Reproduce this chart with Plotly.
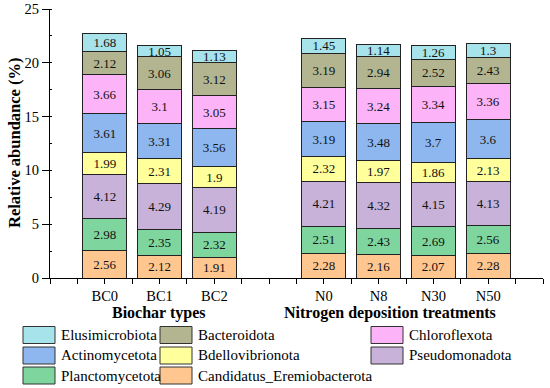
import plotly.graph_objects as go

# ---- data ----
groups = ["Biochar types", "Nitrogen deposition treatments"]
biochar_cats = ["BC0", "BC1", "BC2"]
nitrogen_cats = ["N0", "N8", "N30", "N50"]
categories = biochar_cats + nitrogen_cats

# stacking order, bottom to top
phyla = ["Candidatus_Eremiobacterota", "Planctomycetota", "Pseudomonadota",
         "Bdellovibrionota", "Actinomycetota", "Chloroflexota",
         "Bacteroidota", "Elusimicrobiota"]

candidatus = [2.56, 2.12, 1.91, 2.28, 2.16, 2.07, 2.28]
plancto = [2.98, 2.35, 2.32, 2.51, 2.43, 2.69, 2.56]
pseudo = [4.12, 4.29, 4.19, 4.21, 4.32, 4.15, 4.13]
bdello = [1.99, 2.31, 1.9, 2.32, 1.97, 1.86, 2.13]
actino = [3.61, 3.31, 3.56, 3.19, 3.48, 3.7, 3.6]
chloro = [3.66, 3.1, 3.05, 3.15, 3.24, 3.34, 3.36]
bactero = [2.12, 3.06, 3.12, 3.19, 2.94, 2.52, 2.43]
elusi = [1.68, 1.05, 1.13, 1.45, 1.14, 1.26, 1.3]
values = [candidatus, plancto, pseudo, bdello, actino, chloro, bactero, elusi]

y_ticks = [0, 5, 10, 15, 20, 25]

# ---- styles ----
colors = {
    "Candidatus_Eremiobacterota": "#FFC690",
    "Planctomycetota": "#7ED59E",
    "Pseudomonadota": "#C8B2D9",
    "Bdellovibrionota": "#FFFF9C",
    "Actinomycetota": "#8DB7EE",
    "Chloroflexota": "#FDB3F8",
    "Bacteroidota": "#B2B58F",
    "Elusimicrobiota": "#A7E3EA",
}
FONT = "Liberation Serif"

# x layout positions (axis units): groups with gap
xpos = [2 + 2 * i for i in range(len(biochar_cats))] + \
       [10 + 2 * i for i in range(len(nitrogen_cats))]

fig = go.Figure()
for name, vals in zip(phyla, values):
    fig.add_trace(go.Bar(
        x=xpos, y=vals, name=name, width=1.6,
        marker=dict(color=colors[name], line=dict(color="#222222", width=1)),
        text=[f"{v:g}" for v in vals], textposition="inside",
        insidetextanchor="middle", textangle=0, constraintext="none",
        textfont=dict(family=FONT, size=13, color="#111111"),
        showlegend=False, hoverinfo="skip",
    ))

tickvals = list(range(0, 19))
ticktext = []
for t in tickvals:
    ticktext.append(categories[xpos.index(t)] if t in xpos else "")

# plot area geometry in pixels
L, R, T, B = 50, 7, 9, 110
W, H = 550, 388
pw, ph = W - L - R, H - T - B


def px_x(x):
    return (x - L) / pw


def px_y(y):
    return (H - B - y) / ph


annotations = [
    dict(text="<b>Relative abundance (%)</b>", x=px_x(14), y=px_y(143),
         xref="paper", yref="paper", textangle=-90, showarrow=False,
         font=dict(family=FONT, size=16.5, color="black"),
         xanchor="center", yanchor="middle"),
    dict(text="<b>" + groups[0] + "</b>", x=px_x(158), y=px_y(313),
         xref="paper", yref="paper", showarrow=False,
         font=dict(family=FONT, size=16, color="black"),
         xanchor="center", yanchor="middle"),
    dict(text="<b>" + groups[1] + "</b>", x=px_x(390), y=px_y(313),
         xref="paper", yref="paper", showarrow=False,
         font=dict(family=FONT, size=16, color="black"),
         xanchor="center", yanchor="middle"),
]

# manual legend grid
legend_layout = [
    ["Elusimicrobiota", "Actinomycetota", "Planctomycetota"],
    ["Bacteroidota", "Bdellovibrionota", "Candidatus_Eremiobacterota"],
    ["Chloroflexota", "Pseudomonadota"],
]
col_x = [23, 160, 371]
row_y = [335, 355.5, 375.5]
shapes = []
for ci, col in enumerate(legend_layout):
    for ri, name in enumerate(col):
        x0 = col_x[ci]
        yc = row_y[ri]
        shapes.append(dict(type="rect", xref="paper", yref="paper",
                           x0=px_x(x0), x1=px_x(x0 + 32),
                           y0=px_y(yc + 8.5), y1=px_y(yc - 8.5),
                           fillcolor=colors[name],
                           line=dict(color="#333333", width=1)))
        annotations.append(dict(text=name, x=px_x(x0 + 36), y=px_y(yc),
                                xref="paper", yref="paper", showarrow=False,
                                xanchor="left", yanchor="middle",
                                font=dict(family=FONT, size=15, color="black")))

fig.update_layout(
    width=W, height=H, barmode="stack",
    margin=dict(l=L, r=R, t=T, b=B, autoexpand=False),
    paper_bgcolor="white", plot_bgcolor="white",
    font=dict(family=FONT, color="black"),
    xaxis=dict(range=[0, 18], tickvals=tickvals, ticktext=ticktext,
               ticks="outside", ticklen=5, tickwidth=1, tickcolor="black",
               showline=True, linecolor="black", linewidth=1,
               showgrid=False, zeroline=False, automargin=False,
               tickfont=dict(family=FONT, size=14.5, color="black")),
    yaxis=dict(range=[0, 25], tickvals=y_ticks,
               ticks="outside", ticklen=7, tickwidth=1, tickcolor="black",
               showline=True, linecolor="black", linewidth=1,
               showgrid=False, zeroline=False, automargin=False,
               minor=dict(dtick=2.5, ticks="inside", ticklen=2,
                          tickcolor="black", showgrid=False),
               tickfont=dict(family=FONT, size=14.5, color="black")),
    annotations=annotations, shapes=shapes,
)

fig.write_html("out.html", config={"displayModeBar": False},
               post_script="document.body.style.margin='0';"
                           "document.body.style.padding='0';")
